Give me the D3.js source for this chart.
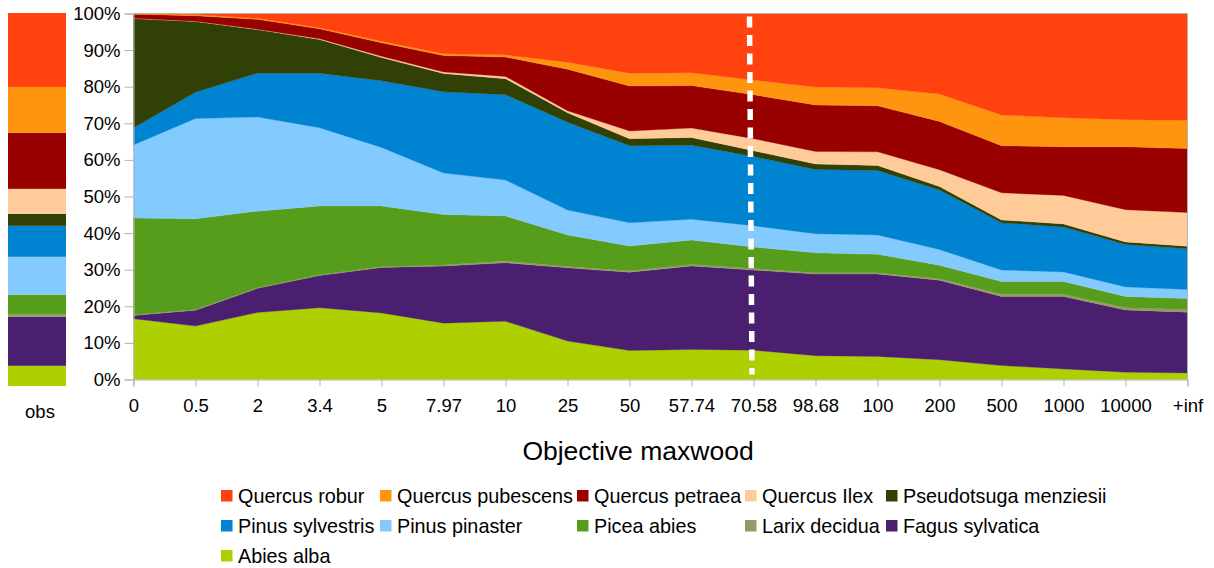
<!DOCTYPE html>
<html>
<head>
<meta charset="utf-8">
<script src="https://cdn.jsdelivr.net/npm/d3@7"></script>
<style>
  html, body { margin: 0; padding: 0; background: #fff; }
  svg { display: block; font-family: "Liberation Sans", Arial, sans-serif; }
</style>
</head>
<body>
<svg id="chart" width="1214" height="568"></svg>
<script>
// Objective values along the x axis
const categories = ["0", "0.5", "2", "3.4", "5", "7.97", "10", "25", "50", "57.74",
  "70.58", "98.68", "100", "200", "500", "1000", "10000", "+inf"];

// Share of each species (%) for every objective value, bottom layer first
const abiesAlba      = [16.6, 14.6, 18.3, 19.6, 18.2, 15.4, 15.9, 10.5, 7.9, 8.2, 8.0, 6.5, 6.3, 5.4, 3.8, 2.9, 2.0, 1.8];
const fagusSylvatica = [0.9, 4.3, 6.6, 8.8, 12.4, 15.6, 16.0, 20.0, 21.4, 22.8, 21.9, 22.3, 22.5, 21.7, 18.9, 19.8, 17.0, 16.6];
const larixDecidua   = [0.2, 0.2, 0.2, 0.2, 0.2, 0.3, 0.5, 0.4, 0.4, 0.4, 0.4, 0.4, 0.4, 0.4, 0.6, 0.6, 0.6, 0.7];
const piceaAbies     = [26.4, 24.8, 20.9, 18.8, 16.6, 13.8, 12.3, 8.6, 6.8, 6.7, 5.9, 5.4, 5.0, 3.7, 3.5, 3.5, 3.1, 3.0];
const pinusPinaster  = [20.0, 27.4, 25.7, 21.4, 16.0, 11.3, 9.8, 6.8, 6.3, 5.7, 5.8, 5.2, 5.3, 4.3, 3.1, 2.6, 2.6, 2.5];
const pinusSylvestris= [4.7, 7.2, 12.0, 14.9, 18.2, 22.2, 23.3, 24.0, 21.1, 20.2, 18.9, 17.6, 17.6, 16.3, 12.9, 12.3, 11.6, 11.1];
const pseudotsuga    = [29.8, 19.3, 11.9, 9.2, 6.4, 5.0, 4.4, 2.6, 1.9, 2.1, 1.6, 1.5, 1.4, 0.9, 0.8, 0.8, 0.7, 0.7];
const quercusIlex    = [0.1, 0.1, 0.1, 0.2, 0.3, 0.4, 0.6, 0.5, 2.1, 2.6, 3.3, 3.4, 3.7, 4.6, 7.4, 7.8, 8.8, 9.2];
const quercusPetraea = [1.1, 1.5, 2.7, 2.7, 3.7, 4.5, 5.3, 11.4, 12.3, 11.6, 12.0, 12.7, 12.6, 13.2, 12.9, 13.3, 17.2, 17.5];
const quercusPubescens=[0.1, 0.3, 0.3, 0.3, 0.4, 0.5, 0.6, 1.9, 3.5, 3.5, 4.0, 4.9, 4.9, 7.5, 8.4, 7.9, 7.4, 7.7];
const quercusRobur   = [0.1, 0.3, 1.3, 3.9, 7.6, 11.0, 11.3, 13.3, 16.3, 16.2, 18.2, 20.1, 20.3, 22.0, 27.7, 28.5, 29.0, 29.2];

// Observed composition (%), same species order
const observed = [5.4, 13.2, 0.5, 5.4, 10.1, 8.3, 3.2, 6.7, 15.0, 12.3, 19.8];

const speciesNames = ["Abies alba", "Fagus sylvatica", "Larix decidua", "Picea abies", "Pinus pinaster",
  "Pinus sylvestris", "Pseudotsuga menziesii", "Quercus Ilex", "Quercus petraea", "Quercus pubescens", "Quercus robur"];
const speciesColors = ["#aecf00", "#4b1f6f", "#999966", "#579d1c", "#83caff",
  "#0084d1", "#314004", "#ffcc99", "#990000", "#ff950e", "#ff420e"];

const yTicks = [0, 10, 20, 30, 40, 50, 60, 70, 80, 90, 100];
const markedCategory = "70.58";

const seriesValues = [abiesAlba, fagusSylvatica, larixDecidua, piceaAbies, pinusPinaster,
  pinusSylvestris, pseudotsuga, quercusIlex, quercusPetraea, quercusPubescens, quercusRobur];

// Build row table for d3.stack
const rows = categories.map((c, i) => {
  const r = { cat: c };
  speciesNames.forEach((s, k) => { r[s] = seriesValues[k][i]; });
  return r;
});

const svg = d3.select("#chart");
const plot = { left: 133.5, right: 1187.5, top: 13.5, bottom: 379.5 };
const axisColor = "#b3b3b3";

const x = d3.scalePoint().domain(categories).range([plot.left, plot.right]);
const y = d3.scaleLinear().domain([0, 1]).range([plot.bottom, plot.top]);

const stack = d3.stack().keys(speciesNames).offset(d3.stackOffsetExpand);
const layers = stack(rows);
const color = d3.scaleOrdinal().domain(speciesNames).range(speciesColors);

const area = d3.area()
  .x(d => x(d.data.cat))
  .y0(d => y(d[0]))
  .y1(d => y(d[1]));

svg.append("g").selectAll("path")
  .data(layers)
  .join("path")
  .attr("d", area)
  .attr("fill", d => color(d.key))
  .attr("stroke", d => color(d.key))
  .attr("stroke-width", 0.3);

// Plot frame (top and right edges)
svg.append("path")
  .attr("d", `M${plot.left},${plot.top}H${plot.right}V${plot.bottom}`)
  .attr("fill", "none").attr("stroke", axisColor).attr("stroke-width", 1);

// Y axis
const yAxis = d3.axisLeft(d3.scaleLinear().domain([0, 100]).range([plot.bottom, plot.top]))
  .tickValues(yTicks).tickFormat(d => d + "%").tickSize(9).tickPadding(4);
const gy = svg.append("g").attr("transform", `translate(${plot.left},0)`).call(yAxis);
gy.select(".domain").attr("stroke", axisColor);
gy.selectAll(".tick line").attr("stroke", axisColor);
gy.selectAll(".tick text").attr("font-size", "18.5px").attr("fill", "#000")
  .attr("font-family", "Liberation Sans, Arial, sans-serif");

// X axis
const xAxis = d3.axisBottom(x).tickSize(7).tickPadding(12);
const gx = svg.append("g").attr("transform", `translate(0,${plot.bottom})`).call(xAxis);
gx.select(".domain").attr("stroke", axisColor);
gx.selectAll(".tick line").attr("stroke", axisColor);
gx.selectAll(".tick text").attr("font-size", "18.5px").attr("fill", "#000")
  .attr("font-family", "Liberation Sans, Arial, sans-serif");

// Dashed marker on the selected objective
const mx = x(markedCategory);
svg.append("line")
  .attr("x1", mx - 4).attr("x2", mx - 1.5)
  .attr("y1", plot.top + 3).attr("y2", plot.bottom - 5)
  .attr("stroke", "#fff").attr("stroke-width", 5.5)
  .attr("stroke-dasharray", "11 7.5");

// Axis title
svg.append("text")
  .attr("x", 638).attr("y", 460)
  .attr("text-anchor", "middle")
  .attr("font-size", "26.5px")
  .text("Objective maxwood");

// Observed composition bar
const obsBox = { left: 8, right: 66, top: 13, bottom: 386 };
const obsTotal = d3.sum(observed);
const yObs = d3.scaleLinear().domain([0, obsTotal]).range([obsBox.bottom, obsBox.top]);
let acc = 0;
const obsSegs = observed.map((v, k) => { const s = { key: speciesNames[k], y0: acc, y1: acc + v }; acc += v; return s; });
svg.append("g").selectAll("rect")
  .data(obsSegs)
  .join("rect")
  .attr("x", obsBox.left)
  .attr("width", obsBox.right - obsBox.left)
  .attr("y", d => yObs(d.y1))
  .attr("height", d => yObs(d.y0) - yObs(d.y1))
  .attr("fill", d => color(d.key));
svg.append("text")
  .attr("x", (obsBox.left + obsBox.right) / 2 + 3).attr("y", 418)
  .attr("text-anchor", "middle").attr("font-size", "18.5px")
  .text("obs");

// Legend: top layer first, five columns
const legendOrder = speciesNames.slice().reverse();
const colX = [221, 380, 577, 745, 886];
const rowY = [496, 526, 556];
const legend = svg.append("g").attr("font-size", "19.8px");
legendOrder.forEach((name, i) => {
  const cx = colX[i % 5], cy = rowY[Math.floor(i / 5)];
  legend.append("rect")
    .attr("x", cx).attr("y", cy - 6)
    .attr("width", 11.5).attr("height", 11.5)
    .attr("fill", color(name));
  legend.append("text")
    .attr("x", cx + 17).attr("y", cy + 7)
    .text(name);
});
</script>
</body>
</html>
